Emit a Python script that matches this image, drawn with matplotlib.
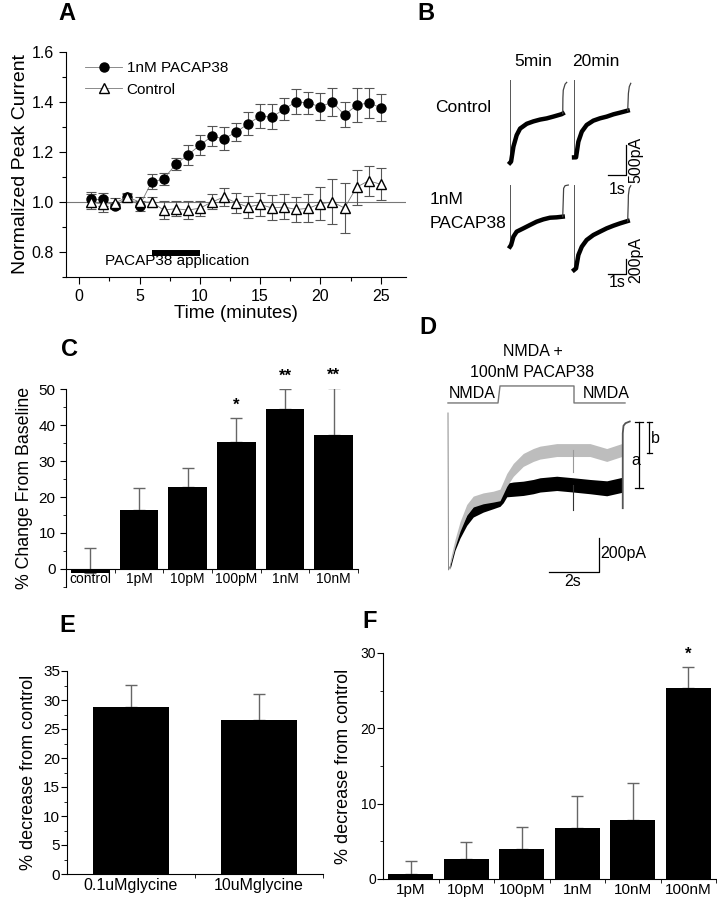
import numpy as np
import matplotlib
matplotlib.use("Agg")
import matplotlib.pyplot as plt
from matplotlib.ticker import MultipleLocator, FixedLocator

plt.rcParams['font.family'] = ['Liberation Sans', 'DejaVu Sans']
plt.rcParams['xtick.direction'] = 'out'
plt.rcParams['ytick.direction'] = 'out'

# ---------------- DATA ----------------
# Panel A: time course
time_min = list(range(1, 26))
pacap_mean = [1.01, 1.01, 0.983, 1.021, 0.985, 1.08, 1.092, 1.151, 1.188, 1.227,
              1.263, 1.253, 1.279, 1.313, 1.343, 1.34, 1.372, 1.401, 1.396, 1.381,
              1.40, 1.348, 1.387, 1.397, 1.377]
pacap_err = [0.03, 0.025, 0.01, 0.01, 0.02, 0.03, 0.025, 0.025, 0.04, 0.04,
             0.04, 0.045, 0.035, 0.045, 0.049, 0.05, 0.045, 0.05, 0.045, 0.055,
             0.055, 0.05, 0.068, 0.06, 0.055]
control_mean = [1.0, 0.99, 0.997, 1.02, 1.0, 1.0, 0.968, 0.973, 0.968, 0.975,
                1.0, 1.02, 0.997, 0.98, 0.99, 0.976, 0.98, 0.97, 0.975, 0.993,
                1.0, 0.976, 1.059, 1.085, 1.071]
control_err = [0.03, 0.03, 0.02, 0.015, 0.02, 0.02, 0.035, 0.03, 0.035, 0.03,
               0.03, 0.035, 0.04, 0.045, 0.045, 0.05, 0.05, 0.05, 0.055, 0.065,
               0.09, 0.1, 0.07, 0.06, 0.065]
app_start, app_end = 6, 10

# Panel B: example traces (s, pA)
b_ctrl5_t = [0.0, 0.0, 0.06, 0.19, 0.37, 0.56, 0.93, 1.30, 1.67, 2.04, 2.41, 2.87, 2.93]
b_ctrl5_i = [0, -1380, -1360, -1110, -920, -810, -730, -690, -660, -640, -610, -570, -560]
b_ctrl5_end_t = [2.93, 2.94, 2.96, 3.06, 3.15]
b_ctrl5_end_i = [-560, -300, -170, -70, -40]
b_ctrl20_t = [0.0, 0.0, 0.11, 0.24, 0.43, 0.70, 1.07, 1.44, 1.81, 2.19, 2.56, 2.98]
b_ctrl20_i = [0, -1290, -1289, -1028, -861, -750, -678, -639, -611, -572, -544, -511]
b_ctrl20_end_t = [2.98, 3.01, 3.02, 3.07, 3.15]
b_ctrl20_end_i = [-511, -300, -222, -111, -56]
b_pac5_t = [0.0, 0.0, 0.06, 0.19, 0.37, 0.74, 1.11, 1.48, 1.85, 2.22, 2.59, 2.93]
b_pac5_i = [0, -822, -800, -689, -622, -578, -533, -489, -458, -436, -431, -422]
b_pac5_end_t = [2.93, 2.96, 2.98, 3.06, 3.24]
b_pac5_end_i = [-422, -200, -44, -9, 0]
b_pac20_t = [0.0, 0.0, 0.11, 0.24, 0.43, 0.70, 1.07, 1.44, 1.81, 2.19, 2.56, 2.98]
b_pac20_i = [0, -1133, -1111, -933, -822, -733, -667, -622, -578, -542, -511, -480]
b_pac20_end_t = [2.98, 3.01, 3.02, 3.07, 3.15]
b_pac20_end_i = [-480, -250, -133, -44, -9]
b_offset_20 = 3.56

# Panel C
c_labels = ['control', '1pM', '10pM', '100pM', '1nM', '10nM']
c_values = [-1.0, 16.3, 22.8, 35.2, 44.4, 37.1]
c_errors = [6.7, 6.3, 5.2, 6.7, 5.5, 13.1]
c_stars = ['', '', '', '*', '**', '**']

# Panel D traces (s, pA)
d_t = [0.08, 0.28, 0.48, 0.75, 1.01, 1.41, 1.81, 2.08, 2.21, 2.35, 2.61, 3.01, 3.41, 3.68,
       4.35, 5.01, 5.68, 6.35, 6.95]
d_black = [-904, -786, -708, -629, -580, -551, -531, -515, -492, -453, -448, -443, -433,
           -423, -414, -423, -433, -443, -423]
d_black_hw = [15, 22, 28, 32, 32, 32, 32, 34, 36, 40, 42, 42, 42, 42, 42, 42, 42, 44, 44]
d_gray = [-884, -766, -668, -570, -521, -502, -492, -482, -440, -394, -335, -276, -247,
          -233, -218, -218, -218, -247, -218]
d_gray_hw = [15, 22, 28, 32, 32, 32, 32, 34, 36, 38, 38, 38, 38, 38, 38, 38, 38, 38, 38]
d_peak = -923
d_spike_t = 4.99
d_black_spike = -570
d_gray_spike = -345
d_end_t = [6.99, 6.99, 7.02, 7.10, 7.27]
d_end_i = [-560, -120, -75, -60, -50]
d_step_t = [0.0, 2.0, 2.08, 5.04, 5.04, 7.08]
d_step_i = [59, 59, 159, 159, 59, 59]
d_a_top, d_a_bot = -53, -441
d_b_top, d_b_bot = -53, -235

# Panel E
e_labels = ['0.1uMglycine', '10uMglycine']
e_values = [28.8, 26.6]
e_errors = [3.8, 4.5]

# Panel F
f_labels = ['1pM', '10pM', '100pM', '1nM', '10nM', '100nM']
f_values = [0.71, 2.66, 3.98, 6.77, 7.79, 25.4]
f_errors = [1.7, 2.2, 2.9, 4.3, 5.0, 2.8]
f_stars = ['', '', '', '', '', '*']

# ---------------- FIGURE ----------------
W, H = 717, 900
fig = plt.figure(figsize=(W / 100, H / 100), dpi=100)


def add_ax(l, t, r, b):
    return fig.add_axes([l / W, 1 - b / H, (r - l) / W, (b - t) / H])


def ftext(x, y, s, **kw):
    fig.text(x / W, 1 - y / H, s, **kw)


ERRC = '#666666'

# ---- Panel A ----
axA = add_ax(66, 52, 406, 277)
axA.axhline(1.0, color='#777777', lw=0.8, zorder=1)
axA.errorbar(time_min, pacap_mean, yerr=pacap_err, fmt='none', ecolor='#555555',
             elinewidth=0.8, capsize=3.5, capthick=0.8, zorder=2)
axA.errorbar(time_min, control_mean, yerr=control_err, fmt='none', ecolor='#555555',
             elinewidth=0.8, capsize=3.5, capthick=0.8, zorder=2)
axA.plot(time_min, pacap_mean, '-', color='#777777', lw=0.6, marker='o', ms=6.5,
         mfc='black', mec='black', label='1nM PACAP38', zorder=3)
axA.plot(time_min, control_mean, '-', color='#777777', lw=0.6, marker='^', ms=6.5,
         mfc='white', mec='black', mew=1.0, label='Control', zorder=3)
axA.plot([app_start, app_end], [0.795, 0.795], color='black', lw=4.3, solid_capstyle='butt')
axA.text((app_start + app_end) / 2 + 0.15, 0.762, 'PACAP38 application', ha='center',
         va='center', fontsize=11)
axA.set_xlim(-1.1, 27.1)
axA.set_ylim(0.7, 1.6)
axA.xaxis.set_major_locator(MultipleLocator(5))
axA.xaxis.set_minor_locator(MultipleLocator(2.5))
axA.yaxis.set_major_locator(FixedLocator([0.8, 1.0, 1.2, 1.4, 1.6]))
axA.yaxis.set_minor_locator(FixedLocator([0.7, 0.9, 1.1, 1.3, 1.5]))
axA.yaxis.set_major_formatter(matplotlib.ticker.FormatStrFormatter('%.1f'))
for s in ['top', 'right']:
    axA.spines[s].set_visible(False)
axA.tick_params(labelsize=11.5, length=5, width=0.8)
axA.tick_params(which='minor', length=3, width=0.8)
axA.set_xlabel('Time (minutes)', fontsize=13.5, labelpad=1)
axA.set_ylabel('Normalized Peak Current', fontsize=14, labelpad=2)
leg = axA.legend(loc='upper left', frameon=False, fontsize=11, handlelength=2.4,
                 numpoints=1, borderaxespad=0.2, handletextpad=0.3, labelspacing=0.5,
                 bbox_to_anchor=(0.03, 1.0))

# ---- Panel B ----
def draw_trace(ax, t, i, t_end, i_end, off):
    tt = [v + off for v in t]
    ax.plot(tt[:2], i[:2], color='#555555', lw=0.7)
    ax.plot(tt[1:], i[1:], color='black', lw=3.2, solid_joinstyle='round')
    ax.plot([v + off for v in t_end], i_end, color='#444444', lw=0.9)


axB1 = add_ax(500, 75, 650, 195)
axB1.set_xlim(-0.556, 7.78)
axB1.set_ylim(-1917, 83)
axB1.axis('off')
draw_trace(axB1, b_ctrl5_t, b_ctrl5_i, b_ctrl5_end_t, b_ctrl5_end_i, 0)
draw_trace(axB1, b_ctrl20_t, b_ctrl20_i, b_ctrl20_end_t, b_ctrl20_end_i, b_offset_20)
axB1.plot([5.44, 6.44, 6.44], [-1583, -1583, -1083], color='black', lw=0.9)
axB1.text(5.94, -1830, '1s', ha='center', va='center', fontsize=11.5, clip_on=False)
axB1.text(7.0, -1333, '500pA', ha='center', va='center', rotation=90, fontsize=11.5)

axB2 = add_ax(500, 180, 650, 290)
axB2.set_xlim(-0.556, 7.78)
axB2.set_ylim(-1400, 67)
axB2.axis('off')
draw_trace(axB2, b_pac5_t, b_pac5_i, b_pac5_end_t, b_pac5_end_i, 0)
draw_trace(axB2, b_pac20_t, b_pac20_i, b_pac20_end_t, b_pac20_end_i, b_offset_20)
axB2.plot([5.44, 6.44, 6.44], [-1187, -1187, -987], color='black', lw=0.9)
axB2.text(5.94, -1300, '1s', ha='center', va='center', fontsize=11.5, clip_on=False)
axB2.text(7.0, -1000, '200pA', ha='center', va='center', rotation=90, fontsize=11.5)

ftext(533, 62, '5min', ha='center', va='center', fontsize=12.5)
ftext(596, 62, '20min', ha='center', va='center', fontsize=12.5)
ftext(463, 108, 'Control', ha='center', va='center', fontsize=12.5)
ftext(430, 200, '1nM', ha='left', va='center', fontsize=12.5)
ftext(430, 224, 'PACAP38', ha='left', va='center', fontsize=12.5)

# ---- Panel C ----
axC = add_ax(66, 389, 358, 587)
xc = np.arange(len(c_labels))
axC.bar(xc, c_values, width=0.8, color='black', zorder=2)
axC.errorbar(xc, c_values, yerr=[np.zeros(len(xc)), c_errors], fmt='none', ecolor=ERRC,
             elinewidth=1.0, capsize=4, capthick=1.0, zorder=1)
for x, v, e, s in zip(xc, c_values, c_errors, c_stars):
    if s:
        axC.text(x, v + e + 1.5, s, ha='center', va='bottom', fontsize=12, fontweight='bold')
axC.set_xlim(-0.5, 5.5)
axC.set_ylim(-5, 50)
axC.spines['bottom'].set_position(('data', 0))
for s in ['top', 'right']:
    axC.spines[s].set_visible(False)
axC.set_xticks(xc)
axC.set_xticklabels(c_labels, fontsize=10)
axC.xaxis.set_minor_locator(FixedLocator(np.arange(0.5, 5.6, 1)))
axC.tick_params(axis='x', which='major', length=0, pad=2.5)
axC.tick_params(axis='x', which='minor', length=3)
axC.yaxis.set_minor_locator(FixedLocator([-5, 5, 15, 25, 35, 45]))
axC.set_yticks([0, 10, 20, 30, 40, 50])
axC.tick_params(axis='y', labelsize=11, length=4)
axC.tick_params(axis='y', which='minor', length=2.5)
axC.set_ylabel('% Change From Baseline', fontsize=12.8, labelpad=4)

# ---- Panel D ----
axD = add_ax(420, 320, 690, 600)
axD.set_xlim(-1.12, 9.68)
axD.set_ylim(-1100, 547)
axD.axis('off')
axD.plot([0, 0.02, d_t[0]], [0, d_peak, d_black[0]], color='#888888', lw=0.7)
db = np.array(d_black); dbh = np.array(d_black_hw)
dg = np.array(d_gray); dgh = np.array(d_gray_hw)
axD.fill_between(d_t, db - dbh, db + dbh, color='black', lw=0)
axD.plot([d_spike_t, d_spike_t], [-423, d_black_spike], color='#333333', lw=0.8)
axD.fill_between(d_t, dg - dgh, dg + dgh, color='#bdbdbd', lw=0)
axD.plot([d_spike_t, d_spike_t], [-218, d_gray_spike], color='#9a9a9a', lw=0.8)
axD.plot(d_end_t, d_end_i, color='#555555', lw=1.3)
axD.plot(d_step_t, d_step_i, color='#777777', lw=1.0)
axD.text(3.4, 359, 'NMDA +', ha='center', va='center', fontsize=11.5)
axD.text(3.36, 241, '100nM PACAP38', ha='center', va='center', fontsize=11.5)
axD.text(0.96, 112, 'NMDA', ha='center', va='center', fontsize=11.5)
axD.text(6.32, 112, 'NMDA', ha='center', va='center', fontsize=11.5)
# brackets a and b
axD.plot([7.64, 7.64], [d_a_top, d_a_bot], color='black', lw=0.9)
axD.plot([7.48, 7.80], [d_a_top, d_a_top], color='black', lw=0.9)
axD.plot([7.48, 7.80], [d_a_bot, d_a_bot], color='black', lw=0.9)
axD.plot([8.04, 8.04], [d_b_top, d_b_bot], color='black', lw=0.9)
axD.plot([7.94, 8.14], [d_b_top, d_b_top], color='black', lw=0.9)
axD.plot([7.94, 8.14], [d_b_bot, d_b_bot], color='black', lw=0.9)
axD.text(7.5, -282, 'a', ha='center', va='center', fontsize=11.5)
axD.text(8.3, -150, 'b', ha='center', va='center', fontsize=11.5)
# scale bar
axD.plot([4.04, 6.04, 6.04], [-935, -935, -735], color='black', lw=0.9)
axD.text(6.1, -829, '200pA', ha='left', va='center', fontsize=11.5)
axD.text(5.0, -990, '2s', ha='center', va='center', fontsize=11.5)

# ---- Panel E ----
axE = add_ax(67, 671, 323, 874)
xe = np.arange(len(e_labels))
axE.bar(xe, e_values, width=0.6, color='black', zorder=2)
axE.errorbar(xe, e_values, yerr=[np.zeros(len(xe)), e_errors], fmt='none', ecolor=ERRC,
             elinewidth=1.0, capsize=4, capthick=1.0, zorder=1)
axE.set_xlim(-0.5, 1.5)
axE.set_ylim(0, 35)
for s in ['top', 'right']:
    axE.spines[s].set_visible(False)
axE.set_xticks(xe)
axE.set_xticklabels(e_labels, fontsize=11.5)
axE.xaxis.set_minor_locator(FixedLocator([0.5, 1.5]))
axE.tick_params(axis='x', which='major', length=0, pad=3)
axE.tick_params(axis='x', which='minor', length=3)
axE.yaxis.set_major_locator(MultipleLocator(5))
axE.yaxis.set_minor_locator(MultipleLocator(2.5))
axE.tick_params(axis='y', labelsize=11, length=4, pad=1)
axE.tick_params(axis='y', which='minor', length=2)
axE.set_ylabel('% decrease from control', fontsize=13, labelpad=4)

# ---- Panel F ----
axF = add_ax(383, 653, 716, 879)
xf = np.arange(len(f_labels))
axF.bar(xf, f_values, width=0.81, color='black', zorder=2)
axF.errorbar(xf, f_values, yerr=[np.zeros(len(xf)), f_errors], fmt='none', ecolor=ERRC,
             elinewidth=1.0, capsize=4, capthick=1.0, zorder=1)
for x, v, e, s in zip(xf, f_values, f_errors, f_stars):
    if s:
        axF.text(x, v + e + 0.6, s, ha='center', va='bottom', fontsize=12, fontweight='bold')
axF.set_xlim(-0.5, 5.5)
axF.set_ylim(0, 30)
for s in ['top', 'right']:
    axF.spines[s].set_visible(False)
axF.set_xticks(xf)
axF.set_xticklabels(f_labels, fontsize=11)
axF.xaxis.set_minor_locator(FixedLocator(np.arange(0.5, 5.6, 1)))
axF.tick_params(axis='x', which='major', length=0, pad=3)
axF.tick_params(axis='x', which='minor', length=3)
axF.yaxis.set_major_locator(MultipleLocator(10))
axF.yaxis.set_minor_locator(MultipleLocator(5))
axF.tick_params(axis='y', labelsize=10, length=4, pad=1)
axF.tick_params(axis='y', which='minor', length=2)
axF.set_ylabel('% decrease from control', fontsize=13, labelpad=6)

# ---- panel letters ----
for lab, x, y in [('A', 67, 13), ('B', 426, 13), ('C', 70, 349), ('D', 428, 328),
                  ('E', 67, 626), ('F', 370, 622)]:
    ftext(x, y, lab, ha='center', va='center', fontsize=17, fontweight='bold')

fig.savefig('out.png', dpi=100)
